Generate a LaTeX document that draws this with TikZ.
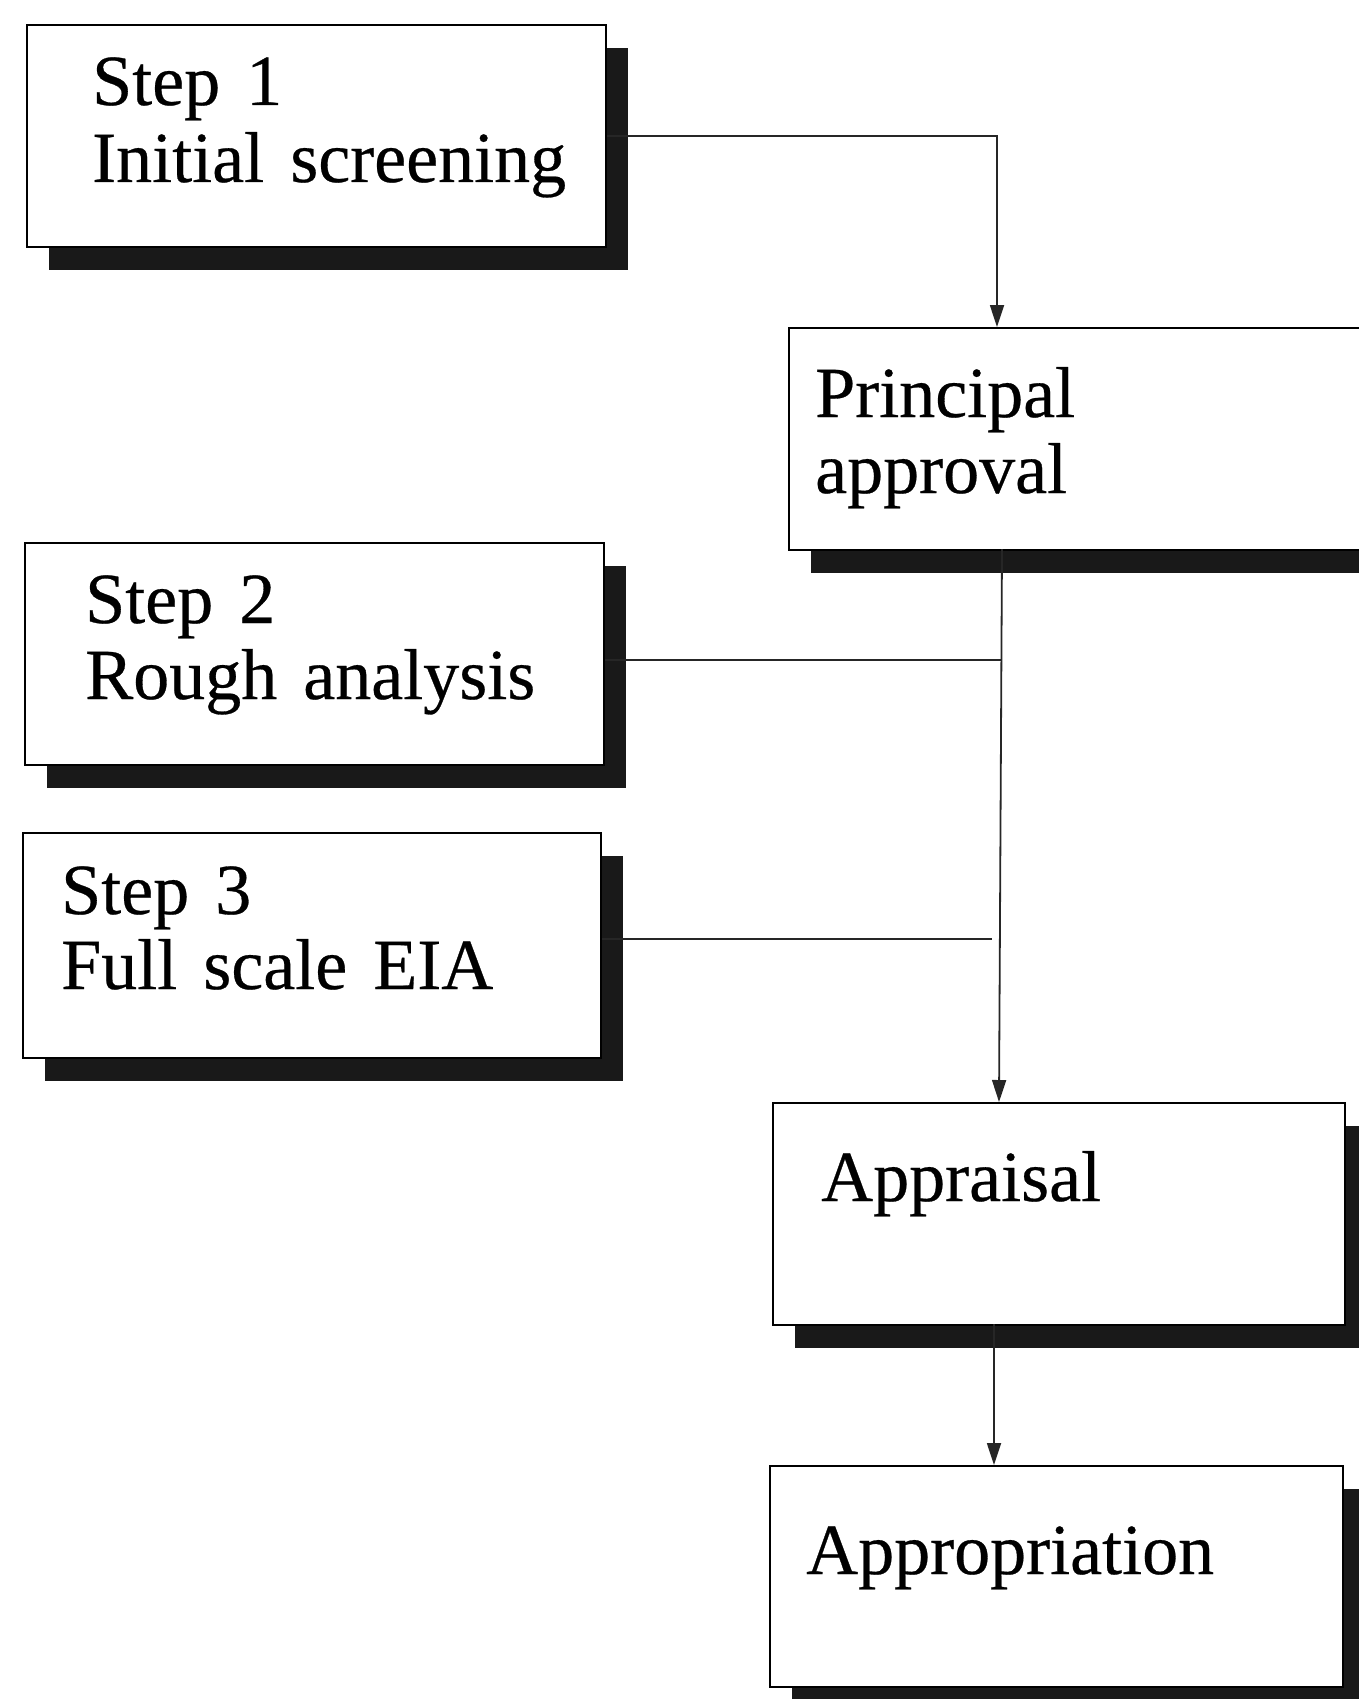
\documentclass[tikz,border=0pt]{standalone}
\usepackage{fontspec}
\setmainfont{Liberation Serif}[WordSpace=1.45, FakeBold=0.4]
\usetikzlibrary{shadows,arrows.meta}
\begin{document}
\begin{tikzpicture}[x=1pt,y=-1pt,
  stepbox/.style={draw=black, line width=2.4pt, fill=white, rectangle, inner sep=0pt,
    anchor=north west,
    general shadow={fill=black!90, shadow xshift=22pt, shadow yshift=-23pt}},
  lbl/.style={anchor=base west, inner sep=0pt, font=\fontsize{72}{86}\selectfont},
  conn/.style={line width=1.8pt, draw=black!85},
  tip/.style={-{Triangle[length=22pt,width=14pt]}}]
\useasboundingbox (0,0) rectangle (1359,1699);
\clip (0,0) rectangle (1359,1699);

% boxes
\node[stepbox, minimum width=579pt, minimum height=222pt] (b1) at (26,24) {};
\node[stepbox, minimum width=579pt, minimum height=222pt] (b2) at (24,542) {};
\node[stepbox, minimum width=578pt, minimum height=225pt] (b3) at (22,832) {};
\node[stepbox, minimum width=640pt, minimum height=222pt] (pa) at (788,327) {};
\node[stepbox, minimum width=572pt, minimum height=222pt] (ap) at (772,1102) {};
\node[stepbox, minimum width=573pt, minimum height=221pt] (ao) at (769,1465) {};

% labels
\node[lbl] (t1a) at (92,105) {Step 1};
\node[lbl] (t1b) at (92,182) {Initial screening};
\node[lbl] (t2a) at (85,623) {Step 2};
\node[lbl] (t2b) at (85,699) {Rough analysis};
\node[lbl] (t3a) at (61,914) {Step 3};
\node[lbl] (t3b) at (61,989) {Full scale EIA};
\node[lbl] (tpa) at (815,417) {Principal};
\node[lbl] (tpb) at (815,493) {approval};
\node[lbl] (tap) at (821,1201) {Appraisal};
\node[lbl] (tao) at (806,1574) {Appropriation};

% junction points on the main vertical line
\coordinate (j2) at (1001,660);
\coordinate (j3) at (992,939);

% connectors
\draw[conn, tip] (b1.east) -| (997,327);
\draw[conn, tip] (1002,549) -- (999,1102);
\draw[conn] (b2.east |- j2) -- (j2);
\draw[conn] (b3.east |- j3) -- (j3);
\draw[conn, tip] (994,1324) -- (994,1465);
\end{tikzpicture}
\end{document}
